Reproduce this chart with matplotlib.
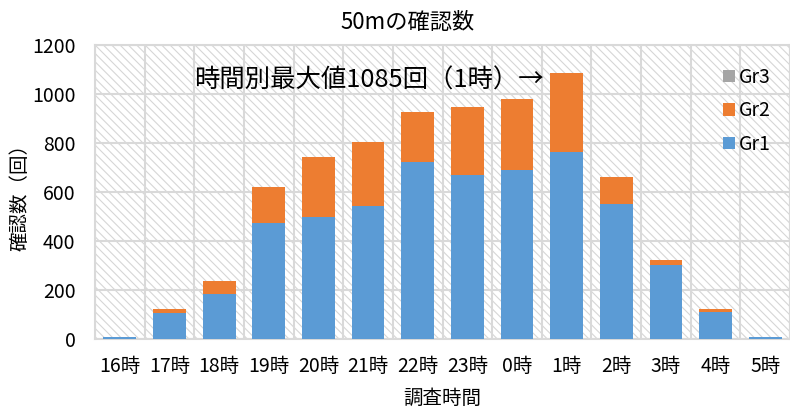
import matplotlib
matplotlib.use('Agg')
import matplotlib.pyplot as plt
from matplotlib.patches import Rectangle
import numpy as np

plt.rcParams['font.family'] = ['Noto Sans CJK JP', 'DejaVu Sans']
plt.rcParams['hatch.linewidth'] = 0.8

# counts per survey hour
hours = ['16時', '17時', '18時', '19時', '20時', '21時', '22時',
         '23時', '0時', '1時', '2時', '3時', '4時', '5時']
gr1 = [10, 108, 184, 475, 498, 546, 725, 671, 693, 766, 554, 303, 110, 10]
gr2 = [0, 17, 53, 147, 248, 258, 204, 276, 287, 319, 110, 21, 12, 0]
gr3 = [0, 0, 0, 0, 0, 0, 0, 0, 0, 0, 0, 0, 0, 0]

c1, c2, c3 = '#5B9BD5', '#ED7D31', '#A5A5A5'
grid_c = '#d9d9d9'

x = np.arange(len(hours))
gr1 = np.array(gr1, dtype=float)
gr2 = np.array(gr2, dtype=float)
gr3 = np.array(gr3, dtype=float)
total = gr1 + gr2 + gr3
peak = int(np.argmax(total))


def nz(v):
    # skip empty segments so they don't leave a hairline on top of the stack
    return np.where(v > 0, v, np.nan)


fig = plt.figure(figsize=(7.9, 4.09), dpi=100)
ax = fig.add_axes([0.1203, 0.1704, 0.8797, 0.7188])

# hatched plot area
ax.add_patch(Rectangle((0, 0), 1, 1, transform=ax.transAxes, facecolor='white',
                       edgecolor='#d6d6d6', hatch='\\\\\\\\', linewidth=0, zorder=0))

w = 0.66
b1 = ax.bar(x, nz(gr1), width=w, color=c1, label='Gr1', zorder=3)
b2 = ax.bar(x, nz(gr2), width=w, bottom=gr1, color=c2, label='Gr2', zorder=3)
b3 = ax.bar(x, nz(gr3), width=w, bottom=gr1 + gr2, color=c3, label='Gr3', zorder=3)

ax.set_xlim(-0.5, len(hours) - 0.5)
ax.set_ylim(0, 1200)
ax.set_yticks(np.arange(0, 1201, 200))
ax.set_xticks(x)
ax.set_xticklabels(hours)
ax.set_xticks(np.arange(-0.5, len(hours), 1), minor=True)
ax.tick_params(axis='both', which='both', length=0, labelsize=14)
ax.tick_params(axis='x', pad=12)
ax.tick_params(axis='y', pad=14)
ax.grid(axis='y', which='major', color=grid_c, linewidth=1.5)
ax.grid(axis='x', which='minor', color=grid_c, linewidth=1.5)
ax.set_axisbelow(True)
for s in ax.spines.values():
    s.set_color(grid_c)
    s.set_linewidth(1.5)

ax.set_title('50mの確認数', fontsize=16, pad=12, x=0.45)
ax.set_xlabel('調査時間', fontsize=14, labelpad=8)
ax.set_ylabel('確認数（回）', fontsize=14, labelpad=1)

ax.text(1.5, 1058, f'時間別最大値{int(total[peak])}回（{hours[peak]}）→',
        fontsize=18.3, va='center', ha='left', zorder=4)

ax.legend(handles=[b3, b2, b1], loc='upper left', bbox_to_anchor=(0.89, 0.96),
          frameon=False, fontsize=14, handlelength=0.6, handleheight=0.6,
          handletextpad=0.2, labelspacing=0.65, borderpad=0)

fig.savefig('out.png', dpi=100)
